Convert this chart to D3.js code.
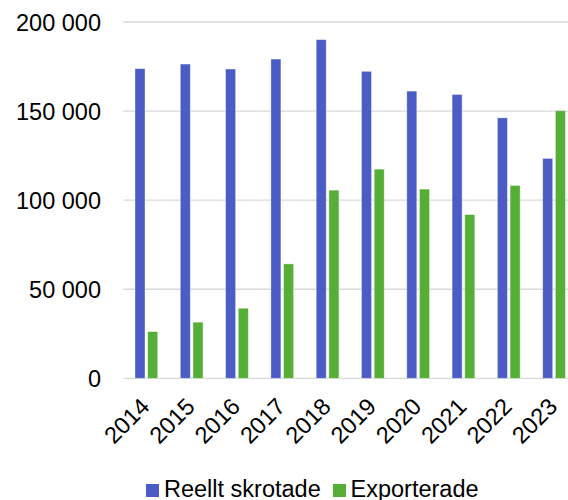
<!DOCTYPE html>
<html>
  <head>
    <meta charset="utf-8">
    <style>
      body { margin: 0; background: #fff; }
      text { font-family: "Liberation Sans", Arial, sans-serif; fill: #000; }
    </style>
  </head>
  <body>
    <div id="chart"></div>
    <script src="https://d3js.org/d3.v7.min.js"></script>
    <script>
      const years = ["2014", "2015", "2016", "2017", "2018", "2019", "2020", "2021", "2022", "2023"];
      const skrotade = [173800, 176400, 173600, 179200, 190100, 172300, 161200, 159300, 146200, 123400];
      const exporterade = [26200, 31500, 39300, 64200, 105600, 117400, 106200, 91900, 108200, 150200];
      const yTicks = [0, 50000, 100000, 150000, 200000];
      const seriesNames = ["Reellt skrotade", "Exporterade"];
      const colors = ["#4b5dc4", "#55ae35"];

      const width = 568, height = 500;
      const plotLeft = 123.3, plotTop = 22, plotBottom = 378.3;

      const svg = d3.select("#chart").append("svg")
        .attr("width", width)
        .attr("height", height);

      const x = d3.scaleBand().domain(years).range([plotLeft, plotLeft + 453]);
      const y = d3.scaleLinear().domain([0, 200000]).range([plotBottom, plotTop]);

      const fmt = (v) => d3.format(",")(v).replace(/,/g, " ");

      // grid
      svg.append("g").selectAll("line").data(yTicks).enter().append("line")
        .attr("x1", plotLeft).attr("x2", width)
        .attr("y1", (d) => y(d)).attr("y2", (d) => y(d))
        .attr("stroke", "#d9d9d9").attr("stroke-width", 1.3);

      svg.append("g").selectAll("text").data(yTicks).enter().append("text")
        .attr("x", 101).attr("y", (d) => y(d) + 8.5)
        .attr("text-anchor", "end")
        .style("font-size", "23.5px")
        .text((d) => fmt(d));

      const barW = 10;
      const series = [skrotade, exporterade];
      series.forEach((vals, s) => {
        svg.append("g").selectAll("rect").data(years).enter().append("rect")
          .attr("x", (d) => x(d) + 11.7 + s * 12.7)
          .attr("y", (d, i) => y(vals[i]))
          .attr("width", barW)
          .attr("height", (d, i) => y(0) - y(vals[i]))
          .attr("fill", colors[s])
          .attr("stroke", "#ffffff").attr("stroke-opacity", 0.45).attr("stroke-width", 0.8);
      });

      // x labels
      svg.append("g").selectAll("text").data(years).enter().append("text")
        .attr("transform", (d) => `translate(${x(d) + x.bandwidth() / 2 + 5},${408}) rotate(-45)`)
        .attr("text-anchor", "end")
        .style("font-size", "23.5px")
        .text((d) => d);

      // legend
      const legend = svg.append("g");
      const items = [{ x: 146, tx: 164 }, { x: 333, tx: 350.5 }];
      items.forEach((it, i) => {
        legend.append("rect")
          .attr("x", it.x).attr("y", 484).attr("width", 13).attr("height", 13)
          .attr("fill", colors[i]);
        legend.append("text")
          .attr("x", it.tx).attr("y", 497)
          .style("font-size", "23.5px")
          .text(seriesNames[i]);
      });
    </script>
  </body>
</html>
